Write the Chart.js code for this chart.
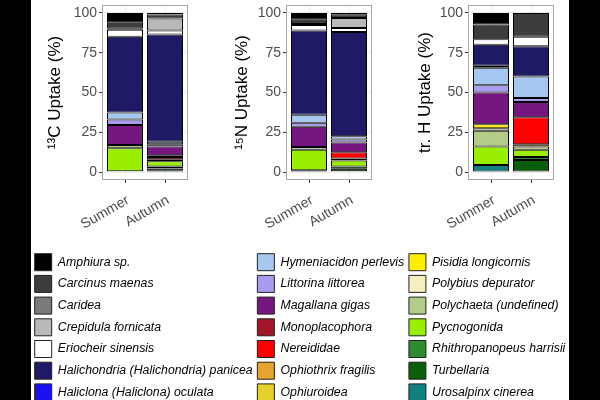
<!DOCTYPE html>
<html><head><meta charset="utf-8">
<script src="https://cdn.jsdelivr.net/npm/chart.js@4.4.1/dist/chart.umd.min.js"></script>
<style>
html,body{margin:0;padding:0;width:600px;height:400px;overflow:hidden;background:#000;}
#bg{position:absolute;left:31px;top:0;width:538px;height:400px;background:#fff;}
canvas{position:absolute;}
</style></head><body>
<div id="bg"></div>
<canvas id="p1" width="150" height="250" style="left:41px;top:0"></canvas>
<canvas id="p2" width="147" height="250" style="left:228px;top:0"></canvas>
<canvas id="p3" width="146" height="250" style="left:411px;top:0"></canvas>
<canvas id="lg" width="539" height="175" style="left:30px;top:249px"></canvas>
<script>
const seasons = ['Summer', 'Autumn'];
const yTicks = [0, 25, 50, 75, 100];
const species = [
  'Amphiura sp.', 'Carcinus maenas', 'Caridea', 'Crepidula fornicata', 'Eriocheir sinensis',
  'Halichondria (Halichondria) panicea', 'Haliclona (Haliclona) oculata', 'Hymeniacidon perlevis',
  'Littorina littorea', 'Magallana gigas', 'Monoplacophora', 'Nereididae', 'Ophiothrix fragilis',
  'Ophiuroidea', 'Pisidia longicornis', 'Polybius depurator', 'Polychaeta (undefined)',
  'Pycnogonida', 'Rhithropanopeus harrisii', 'Turbellaria', 'Urosalpinx cinerea'
];
const speciesColors = [
  '#000000', '#3d3d3d', '#7a7a7a', '#b9b9b9', '#ffffff',
  '#1f1a66', '#1a10f2', '#a6c8f0',
  '#a89cf0', '#761680', '#a3162a', '#ff0000', '#e8a22e',
  '#e6d02c', '#ffee00', '#f6efbf', '#b3cc88',
  '#9aef00', '#2e8b2e', '#0b5e0b', '#12807f'
];
// values in species order (percent)
const c13Summer = [6.2, 3.8, 0.5, 0, 4.5, 47.5, 0, 4.5, 3.5, 12.5, 0, 0, 0, 0, 0, 0, 2, 14.5, 0, 0, 0.5];
const c13Autumn = [1, 2.5, 0, 7.5, 2.5, 67.5, 0, 1.5, 1.5, 5.5, 1, 1.5, 0, 0, 0, 0, 1.2, 3.3, 1.3, 1.4, 0.8];
const n15Summer = [4.2, 2.8, 0.5, 0, 3.5, 53, 0, 5, 2.5, 12.7, 0, 0, 0, 0, 0, 0, 1.8, 12.8, 0, 0, 1.2];
const n15Autumn = [0.8, 2.4, 0, 6.3, 2.5, 65.5, 0, 2, 2, 6, 0, 4, 0, 0, 0, 1.2, 0, 3.8, 1.5, 1.5, 0.5];
const hSummer = [7.3, 9.2, 0, 0, 3.5, 13.2, 1.3, 11, 4.5, 20, 0, 0, 0, 0, 2.5, 1.5, 10, 11.5, 0, 0, 4.5];
const hAutumn = [0, 15, 0, 0, 6, 19, 0, 13.5, 2.5, 9.5, 0, 17, 1.5, 0, 0, 0, 2, 4.5, 2, 7.2, 0.3];

const FONT = "'Liberation Sans', Arial, sans-serif";

const panelBorder = {
  id: 'panelBorder',
  afterDatasetsDraw(chart) {
    const {ctx, chartArea: a} = chart;
    ctx.save();
    ctx.strokeStyle = '#a8a8a8';
    ctx.lineWidth = 1;
    ctx.strokeRect(a.left + 0.5, a.top + 0.5, a.width - 1, a.height - 1);
    ctx.restore();
  }
};

function makePanel(id, title, summer, autumn, axisWidth) {
  const datasets = [];
  for (let i = species.length - 1; i >= 0; i--) {
    datasets.push({
      label: species[i],
      data: [{x: 0, y: summer[i]}, {x: 1, y: autumn[i]}],
      backgroundColor: speciesColors[i],
      borderColor: '#000',
      borderWidth: 1,
      borderSkipped: false,
      stack: 's',
      categoryPercentage: 1,
      barPercentage: 0.9
    });
  }
  new Chart(document.getElementById(id), {
    type: 'bar',
    data: {datasets},
    options: {
      responsive: false, animation: false,
      layout: {padding: {top: 5, right: 3, bottom: 0, left: 0}},
      plugins: {legend: {display: false}, tooltip: {enabled: false}},
      scales: {
        x: {
          type: 'linear', min: -0.575, max: 1.575, offset: false,
          afterBuildTicks: ax => { ax.ticks = seasons.map((s, i) => ({value: i})); },
          afterFit: ax => { ax.height = 70; ax.paddingLeft = 0; ax.paddingRight = 0; },
          ticks: {
            callback: v => seasons[v], autoSkip: false, minRotation: 30, maxRotation: 30,
            padding: 9, labelOffset: 3, color: '#4d4d4d', font: {family: FONT, size: 14}
          },
          grid: {color: '#ececec', tickColor: '#333', tickLength: 3, offset: false},
          border: {display: false}
        },
        y: {
          stacked: true, min: -5, max: 105,
          afterBuildTicks: ax => { ax.ticks = yTicks.map(v => ({value: v})); },
          afterFit: ax => { ax.width = axisWidth; ax.paddingTop = 0; ax.paddingBottom = 0; },
          ticks: {padding: 2, color: '#4d4d4d', font: {family: FONT, size: 14}},
          grid: {color: '#ececec', tickColor: '#333', tickLength: 3},
          border: {display: false},
          title: {display: true, text: title, color: '#000', font: {family: FONT, size: 17}, padding: {top: 4, bottom: 4}}
        }
      }
    },
    plugins: [panelBorder]
  });
}

makePanel('p1', '¹³C Uptake (%)', c13Summer, c13Autumn, 61);
makePanel('p2', '¹⁵N Uptake (%)', n15Summer, n15Autumn, 58);
makePanel('p3', 'tr. H Uptake (%)', hSummer, hAutumn, 57);

new Chart(document.getElementById('lg'), {
  type: 'bar',
  data: {
    labels: [],
    datasets: species.map((s, i) => ({label: s, data: [], backgroundColor: speciesColors[i], borderColor: '#222', borderWidth: 1}))
  },
  options: {
    responsive: false, animation: false,
    layout: {padding: 0},
    scales: {x: {display: false}, y: {display: false}},
    plugins: {
      tooltip: {enabled: false},
      legend: {
        position: 'left', align: 'start', maxWidth: 539,
        labels: {boxWidth: 17, boxHeight: 17, padding: 4.7, color: '#000',
          font: {family: FONT, size: 12.3, style: 'italic'}}
      }
    }
  }
});
</script>
</body></html>
